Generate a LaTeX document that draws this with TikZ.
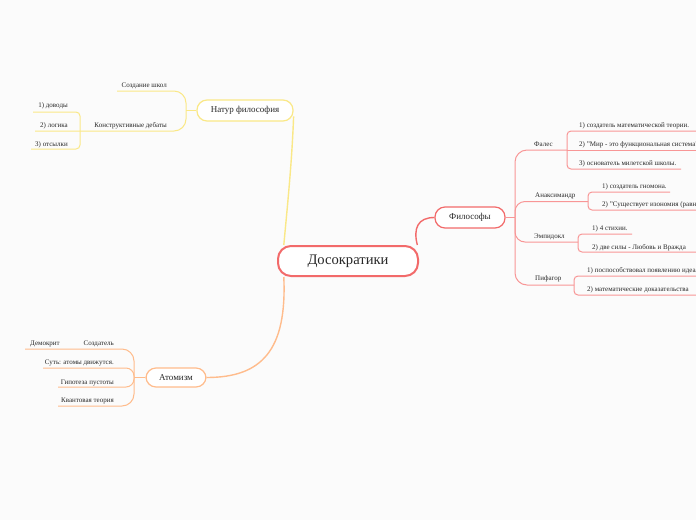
\documentclass[tikz,border=0pt]{standalone}
\usepackage{fontspec}
\setmainfont{Liberation Serif}
\definecolor{bgc}{RGB}{251,251,251}
\definecolor{redb}{RGB}{242,106,106}
\definecolor{redl}{RGB}{248,150,150}
\definecolor{yel}{RGB}{250,232,135}
\definecolor{ora}{RGB}{255,188,140}
\definecolor{txt}{RGB}{40,40,40}
\pgfdeclarelayer{bg}
\pgfsetlayers{bg,main}
\tikzset{
  topic/.style={draw, fill=white, rounded corners=10pt, inner sep=0pt, text=txt,
    font=\fontsize{9}{10}\selectfont, line width=1.2pt},
  lbl/.style={inner sep=0pt, text=txt, font=\fontsize{7}{8}\selectfont},
  yl/.style={draw=yel, line width=1pt},
  rl/.style={draw=redl, line width=1pt},
  ol/.style={draw=ora, line width=1pt},
}
\begin{document}
\begin{tikzpicture}[x=1pt,y=-1pt]
\useasboundingbox (0,0) rectangle (696,520);
% main nodes
\node[topic, draw=redb, line width=2pt, minimum width=140pt, minimum height=30pt,
  rounded corners=13pt, font=\fontsize{14.6}{16}\selectfont] (root) at (348,261) {Досократики};
\node[topic, draw=yel, minimum width=96pt, minimum height=21pt] (nat) at (245,110.5) {Натур философия};
\node[topic, draw=redb, minimum width=70pt, minimum height=21pt] (fil) at (470,217.5) {Философы};
\node[topic, draw=ora, minimum width=60pt, minimum height=19pt] (atom) at (176,377.5) {Атомизм};
% Натур философия labels
\node[lbl, anchor=base east] (sozd) at (167,87) {Создание школ};
\node[lbl, anchor=base east] (konstr) at (167,127) {Конструктивные дебаты};
\node[lbl, anchor=base east] (dov) at (68,107) {1) доводы};
\node[lbl, anchor=base east] (log) at (68,127) {2) логика};
\node[lbl, anchor=base east] (ots) at (68,146) {3) отсылки};
% Философы labels
\node[lbl, anchor=base west] (fales) at (534,146) {Фалес};
\node[lbl, anchor=base west] (f1) at (579,127) {1) создатель математической теории.};
\node[lbl, anchor=base west] (f2) at (579,146) {2) "Мир - это функциональная система"};
\node[lbl, anchor=base west] (f3) at (579,165) {3) основатель милетской школы.};
\node[lbl, anchor=base west] (anax) at (535,197) {Анаксимандр};
\node[lbl, anchor=base west] (a1) at (602,188) {1) создатель гномона.};
\node[lbl, anchor=base west] (a2) at (602,206) {2) "Существует изономия (равновесие)"};
\node[lbl, anchor=base west] (emp) at (534,238) {Эмпидокл};
\node[lbl, anchor=base west] (e1) at (592,230) {1) 4 стихии.};
\node[lbl, anchor=base west] (e2) at (592,249) {2) две силы - Любовь и Вражда};
\node[lbl, anchor=base west] (pif) at (535,280) {Пифагор};
\node[lbl, anchor=base west] (p1) at (587,272) {1) поспособствовал появлению идеализма.};
\node[lbl, anchor=base west] (p2) at (587,291) {2) математические доказательства};
% Атомизм labels
\node[lbl, anchor=base west] (dem) at (30,345) {Демокрит};
\node[lbl, anchor=base east] (sozd2) at (114,345) {Создатель};
\node[lbl, anchor=base east] (sut) at (114,364) {Суть: атомы движутся.};
\node[lbl, anchor=base east] (gip) at (114,384) {Гипотеза пустоты};
\node[lbl, anchor=base east] (kvant) at (114,402) {Квантовая теория};
% coordinates
\coordinate (nj) at (186,110.5);
\coordinate (sozdL) at (117,91);
\coordinate (konK) at (80,131);
\coordinate (dovL) at (33,112);
\coordinate (dovK) at (80,112);
\coordinate (logL) at (35,131);
\coordinate (otsK) at (80,149);
\coordinate (otsL) at (31,149);
\coordinate (fj) at (515,217.5);
\coordinate (falK) at (567,150);
\coordinate (f1K) at (567,131);
\coordinate (f1R) at (700,131);
\coordinate (f2R) at (700,150);
\coordinate (f3K) at (567,169);
\coordinate (f3R) at (681,169);
\coordinate (anK) at (588,201.5);
\coordinate (a1K) at (588,192);
\coordinate (a1R) at (670,192);
\coordinate (a2K) at (588,210);
\coordinate (a2R) at (700,210);
\coordinate (emK) at (578,242);
\coordinate (e1K) at (578,234);
\coordinate (e1R) at (632,234);
\coordinate (e2K) at (578,252);
\coordinate (e2R) at (700,252);
\coordinate (piK) at (574,285);
\coordinate (p1K) at (574,276);
\coordinate (p1R) at (700,276);
\coordinate (p2K) at (574,295);
\coordinate (p2R) at (700,295);
\coordinate (aj) at (134,377.5);
\coordinate (demL) at (25,349);
\coordinate (sutL) at (43,368);
\coordinate (gipL) at (58,387);
\coordinate (kvL) at (58,406);
\begin{pgfonlayer}{bg}
\fill[bgc] (0,0) rectangle (696,520);
% root connectors
\draw[yl, line width=1.4pt] (root.166) .. controls (288,200) and (292,160) .. (nat.-7);
\draw[draw=redb, line width=1.4pt] (root.13) .. controls (413,228) and (418,217.5) .. (fil.west);
\draw[ol, line width=1.4pt] (root.194) .. controls (287,350) and (262,377.5) .. (atom.east);
% Натур
\draw[yl] (nat.west) -- (nj);
\draw[yl, rounded corners=12pt] (nj) |- (sozdL);
\draw[yl, rounded corners=12pt] (nj) |- (konK) -- (logL);
\draw[yl, rounded corners=4pt] (dovL) -- (dovK) -- (otsK) -- (otsL);
% Философы
\draw[rl] (fil.east) -- (fj);
\draw[rl, rounded corners=12pt] (fj) |- (falK);
\draw[rl, rounded corners=4pt] (f1R) -- (f1K) -- (f3K) -- (f3R);
\draw[rl] (falK) -- (f2R);
\draw[rl, rounded corners=10pt] (fj) |- (anK);
\draw[rl, rounded corners=4pt] (a1R) -- (a1K) -- (a2K) -- (a2R);
\draw[rl, rounded corners=10pt] (fj) |- (emK);
\draw[rl, rounded corners=4pt] (e1R) -- (e1K) -- (e2K) -- (e2R);
\draw[rl, rounded corners=12pt] (fj) |- (piK);
\draw[rl, rounded corners=4pt] (p1R) -- (p1K) -- (p2K) -- (p2R);
% Атомизм
\draw[ol] (atom.west) -- (aj);
\draw[ol, rounded corners=12pt] (aj) |- (demL);
\draw[ol, rounded corners=8pt] (aj) |- (sutL);
\draw[ol, rounded corners=8pt] (aj) |- (gipL);
\draw[ol, rounded corners=12pt] (aj) |- (kvL);
\end{pgfonlayer}
\end{tikzpicture}
\end{document}
